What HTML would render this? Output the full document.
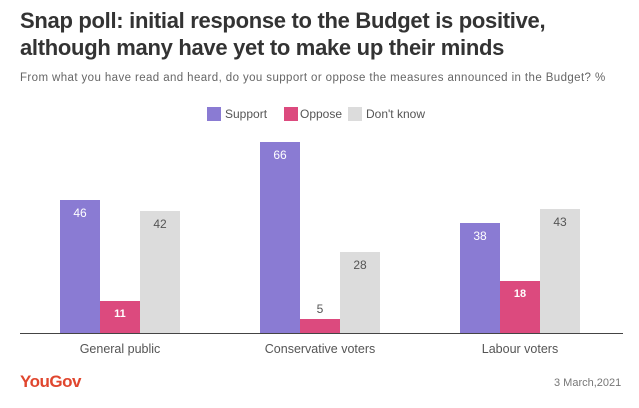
<!DOCTYPE html><html><head><style>
body{margin:0;width:639px;height:408px;background:#fff;font-family:"Liberation Sans",sans-serif;position:relative;overflow:hidden}
.a{position:absolute}
.t{left:20px;top:7px;font-size:22px;font-weight:bold;color:#333;line-height:27px;letter-spacing:-0.3px}
.s{left:20px;top:72px;font-size:11.5px;color:#666;letter-spacing:0.4px}
.b{position:absolute;width:40px}
.v{position:absolute;width:40px;text-align:center;font-size:12px}
.l{position:absolute;font-size:12.5px;color:#555;text-align:center;width:200px;top:342px}
.lg{position:absolute;top:107px;font-size:12px;color:#555}
</style></head><body>
<div class="a t">Snap poll: initial response to the Budget is positive,<br>although many have yet to make up their minds</div>
<div class="a s">From what you have read and heard, do you support or oppose the measures announced in the Budget? %</div>
<div class="a" style="left:207px;top:107px;width:14px;height:14px;background:#8a7bd3"></div>
<div class="lg" style="left:225px">Support</div>
<div class="a" style="left:284px;top:107px;width:14px;height:14px;background:#dc4a7e"></div>
<div class="lg" style="left:300px">Oppose</div>
<div class="a" style="left:348px;top:107px;width:14px;height:14px;background:#dcdcdc"></div>
<div class="lg" style="left:366px">Don't know</div>

<div class="b" style="left:60px;top:200px;height:133px;background:#8a7bd3"></div>
<div class="b" style="left:100px;top:301px;height:32px;background:#dc4a7e"></div>
<div class="b" style="left:140px;top:211px;height:122px;background:#dcdcdc"></div>
<div class="b" style="left:260px;top:142px;height:191px;background:#8a7bd3"></div>
<div class="b" style="left:300px;top:319px;height:14px;background:#dc4a7e"></div>
<div class="b" style="left:340px;top:252px;height:81px;background:#dcdcdc"></div>
<div class="b" style="left:460px;top:223px;height:110px;background:#8a7bd3"></div>
<div class="b" style="left:500px;top:281px;height:52px;background:#dc4a7e"></div>
<div class="b" style="left:540px;top:209px;height:124px;background:#dcdcdc"></div>

<div class="v" style="left:60px;top:206px;color:#fff">46</div>
<div class="v" style="left:100px;top:308px;color:#fff;font-weight:bold;font-size:11px">11</div>
<div class="v" style="left:140px;top:217px;color:#555">42</div>
<div class="v" style="left:260px;top:148px;color:#fff">66</div>
<div class="v" style="left:300px;top:302px;color:#555">5</div>
<div class="v" style="left:340px;top:258px;color:#555">28</div>
<div class="v" style="left:460px;top:229px;color:#fff">38</div>
<div class="v" style="left:500px;top:288px;color:#fff;font-weight:bold;font-size:11px">18</div>
<div class="v" style="left:540px;top:215px;color:#555">43</div>

<div class="a" style="left:20px;top:333px;width:603px;height:1px;background:#444"></div>
<div class="l" style="left:20px">General public</div>
<div class="l" style="left:220px">Conservative voters</div>
<div class="l" style="left:420px">Labour voters</div>
<div class="a" style="left:20px;top:372px;font-size:17px;font-weight:bold;color:#e0462e;letter-spacing:-0.5px">YouGov</div>
<div class="a" style="left:554px;top:377px;font-size:11px;color:#777">3 March,2021</div>
</body></html>
